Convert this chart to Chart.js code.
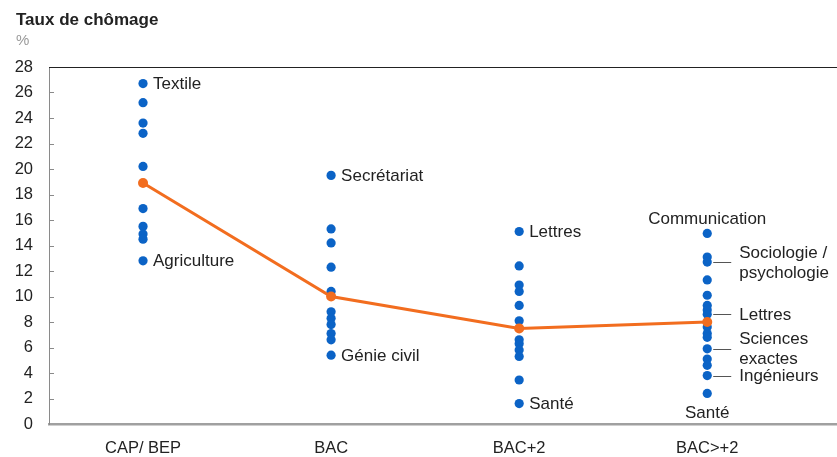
<!DOCTYPE html>
<html>
<head>
<meta charset="utf-8">
<script src="https://cdn.jsdelivr.net/npm/chart.js@4.4.1/dist/chart.umd.min.js"></script>
<style>
  body { margin: 0; background: #fff; font-family: "Liberation Sans", Arial, sans-serif; }
  #wrap { position: relative; width: 837px; height: 457px; }
  #title { position: absolute; left: 16px; top: 10px; font-weight: bold; font-size: 17px; color: #222; }
  #unit { position: absolute; left: 16px; top: 31px; font-size: 15px; color: #9a9a9a; }
  canvas { position: absolute; left: 0; top: 0; }
</style>
</head>
<body>
<div id="wrap">
  <canvas id="graphicMain" width="837" height="457"></canvas>
  <div id="title">Taux de chômage</div>
  <div id="unit">%</div>
</div>
<script>
// Taux de chômage par niveau de diplôme
// Librerias: Chart.js

const categories = ['CAP/ BEP', 'BAC', 'BAC+2', 'BAC>+2'];
const yTicks = [0, 2, 4, 6, 8, 10, 12, 14, 16, 18, 20, 22, 24, 26, 28];

// valeurs par spécialité
const capBep = [26.7, 25.2, 23.6, 22.8, 20.2, 16.9, 15.5, 14.9, 14.5, 12.8];
const bac = [19.5, 15.3, 14.2, 12.3, 10.4, 8.8, 8.3, 7.8, 7.1, 6.6, 5.4];
const bac2 = [15.1, 12.4, 10.9, 10.4, 9.3, 8.1, 6.6, 6.3, 5.8, 5.3, 3.45, 1.6];
const bacPlus2 = [14.95, 13.1, 12.7, 11.3, 10.1, 9.3, 8.95, 8.6, 7.6, 7.1, 6.8, 5.9, 5.1, 4.6, 3.8, 2.4];

// moyenne par niveau
const averages = [18.9, 10.0, 7.5, 8.0];

// étiquettes des points
const labelCats = [0, 0, 1, 1, 2, 2, 3, 3, 3, 3, 3, 3];
const labelValues = [26.7, 12.8, 19.5, 5.4, 15.1, 1.6, 14.95, 12.7, 8.6, 5.9, 3.8, 2.4];
const labelTexts = ['Textile', 'Agriculture', 'Secrétariat', 'Génie civil', 'Lettres', 'Santé',
  'Communication', 'Sociologie /\npsychologie', 'Lettres', 'Sciences\nexactes', 'Ingénieurs', 'Santé'];

const blue = '#0b63c6';
const orange = '#f26d1f';
const fontFamily = '"Liberation Sans", Arial, sans-serif';

function toPoints(cat, values) {
  return values.map(function(v) { return { x: cat, y: v }; });
}

//--- Plugin: cadre haut + petits traits vers l'intérieur
const framePlugin = {
  id: 'framePlugin',
  afterDraw: function(chart) {
    const ctx = chart.ctx;
    const area = chart.chartArea;
    const yScale = chart.scales.y;
    ctx.save();
    ctx.strokeStyle = '#222';
    ctx.lineWidth = 1;
    ctx.beginPath();
    ctx.moveTo(area.left, area.top + 0.5);
    ctx.lineTo(chart.width, area.top + 0.5);
    ctx.stroke();

    ctx.strokeStyle = '#8a8a8a';
    yTicks.forEach(function(t) {
      if (t === 0 || t === 28) return;
      const py = Math.round(yScale.getPixelForValue(t)) + 0.5;
      ctx.beginPath();
      ctx.moveTo(area.left, py);
      ctx.lineTo(area.left + 5, py);
      ctx.stroke();
    });
    ctx.restore();
  }
};

//--- Plugin: étiquettes des spécialités
const labelPlugin = {
  id: 'labelPlugin',
  afterDatasetsDraw: function(chart) {
    const ctx = chart.ctx;
    const xScale = chart.scales.x;
    const yScale = chart.scales.y;
    const lastMax = Math.max.apply(null, bacPlus2);
    const lastMin = Math.min.apply(null, bacPlus2);
    ctx.save();
    ctx.font = '17px ' + fontFamily;
    ctx.fillStyle = '#222';
    const lineH = 20;
    for (let i = 0; i < labelTexts.length; i++) {
      const px = xScale.getPixelForValue(labelCats[i]);
      const py = yScale.getPixelForValue(labelValues[i]);
      const lines = labelTexts[i].split('\n');
      if (labelCats[i] === 3 && labelValues[i] === lastMax) {
        ctx.textAlign = 'center';
        ctx.textBaseline = 'middle';
        ctx.fillText(lines[0], px, py - 14);
      } else if (labelCats[i] === 3 && labelValues[i] === lastMin) {
        ctx.textAlign = 'center';
        ctx.textBaseline = 'middle';
        ctx.fillText(lines[0], px, py + 20);
      } else if (labelCats[i] === 3) {
        // trait de rappel
        ctx.strokeStyle = '#555';
        ctx.lineWidth = 1;
        ctx.beginPath();
        ctx.moveTo(px + 6, Math.round(py) + 0.5);
        ctx.lineTo(px + 24, Math.round(py) + 0.5);
        ctx.stroke();
        ctx.textAlign = 'left';
        ctx.textBaseline = 'middle';
        const top = py - (lines.length - 1) * lineH / 2;
        lines.forEach(function(l, k) {
          ctx.fillText(l, px + 32, top + k * lineH + 1);
        });
      } else {
        ctx.textAlign = 'left';
        ctx.textBaseline = 'middle';
        ctx.fillText(lines[0], px + 10, py + 1);
      }
    }
    ctx.restore();
  }
};

let chart1;
function drawMainChart() {
  const ctx = document.getElementById('graphicMain').getContext('2d');
  if (chart1) {
    chart1.destroy();
  }

  const dotStyle = {
    type: 'scatter',
    backgroundColor: blue,
    borderColor: blue,
    pointRadius: 4.6,
    pointBorderWidth: 0,
    order: 2
  };

  chart1 = new Chart(ctx, {
    data: {
      datasets: [
        Object.assign({ label: categories[0], data: toPoints(0, capBep) }, dotStyle),
        Object.assign({ label: categories[1], data: toPoints(1, bac) }, dotStyle),
        Object.assign({ label: categories[2], data: toPoints(2, bac2) }, dotStyle),
        Object.assign({ label: categories[3], data: toPoints(3, bacPlus2) }, dotStyle),
        {
          type: 'line',
          label: 'Moyenne',
          data: averages.map(function(v, i) { return { x: i, y: v }; }),
          borderColor: orange,
          backgroundColor: orange,
          borderWidth: 3,
          pointRadius: 5,
          pointBorderWidth: 0,
          tension: 0,
          order: 1
        }
      ]
    },
    options: {
      responsive: false,
      animation: false,
      layout: {
        autoPadding: false,
        padding: { top: 67, left: 0, right: 0, bottom: 0 }
      },
      plugins: {
        legend: { display: false },
        tooltip: { enabled: false },
        title: { display: false }
      },
      scales: {
        x: {
          type: 'linear',
          min: -0.5,
          max: 3.69,
          afterBuildTicks: function(scale) {
            scale.ticks = categories.map(function(c, i) { return { value: i }; });
          },
          afterFit: function(scale) {
            scale.height = 33;
            scale.paddingRight = 0;
            scale.paddingLeft = 0;
          },
          ticks: {
            callback: function(value) { return categories[value]; },
            color: '#222',
            font: { family: fontFamily, size: 16.5 },
            padding: 15,
            maxRotation: 0
          },
          grid: { display: false, drawTicks: false },
          border: { display: true, color: '#a0a0a0', width: 2.5 }
        },
        y: {
          min: 0,
          max: 28,
          afterBuildTicks: function(scale) {
            scale.ticks = yTicks.map(function(t) { return { value: t }; });
          },
          afterFit: function(scale) {
            scale.width = 49;
          },
          ticks: {
            color: '#222',
            font: { family: fontFamily, size: 16.5 },
            padding: 16
          },
          grid: { display: false, drawTicks: false },
          border: { display: true, color: '#8a8a8a', width: 1 }
        }
      }
    },
    plugins: [framePlugin, labelPlugin]
  });
}

drawMainChart();
</script>
</body>
</html>
